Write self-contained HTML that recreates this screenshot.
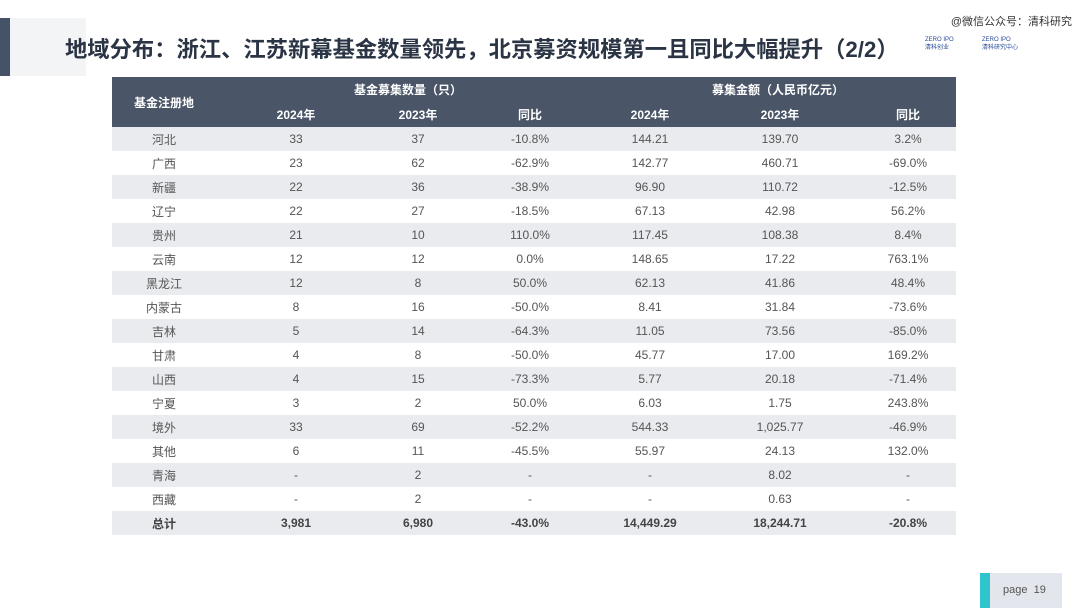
<!DOCTYPE html>
<html><head><meta charset="utf-8"><style>
body{margin:0;width:1080px;height:608px;background:#fff;position:relative;overflow:hidden;font-family:"Liberation Sans","Noto Sans CJK SC",sans-serif;}
.abs{position:absolute}
table{border-collapse:collapse;table-layout:fixed}
td,th{padding:0;text-align:center;font-size:12px;color:#555;height:24px;font-weight:normal}
th{color:#fff;font-weight:bold;font-size:12px;height:25px;background:#4a5568}
tr.g td{background:#e9ebef}
tr.t td{font-weight:bold;color:#444}
</style></head><body>
<div class="abs" style="left:0;top:18px;width:86px;height:58px;background:#f3f4f6"></div>
<div class="abs" style="left:0;top:18px;width:10px;height:58px;background:#455268"></div>
<div class="abs" style="left:65px;top:32px;font-size:22.3px;font-weight:bold;color:#2a3444;white-space:nowrap">地域分布：浙江、江苏新幕基金数量领先，北京募资规模第一且同比大幅提升（2/2）</div>
<div class="abs" style="right:8px;top:13px;font-size:11px;color:#333">@微信公众号：清科研究</div>
<div class="abs" style="left:925px;top:36px;width:32px;height:24px;font-size:6px;color:#2a4a9a;line-height:8px">ZERO IPO<br>清科创业</div>
<div class="abs" style="left:982px;top:36px;width:40px;height:24px;font-size:6px;color:#2a4a9a;line-height:8px">ZERO IPO<br>清科研究中心</div>
<table class="abs" style="left:112px;top:77px;width:844px">
<colgroup><col style="width:104px"><col style="width:160px"><col style="width:84px"><col style="width:140px"><col style="width:100px"><col style="width:160px"><col style="width:96px"></colgroup>
<tr><th rowspan="2">基金注册地</th><th colspan="3">基金募集数量（只）</th><th colspan="3">募集金额（人民币亿元）</th></tr>
<tr><th>2024年</th><th>2023年</th><th>同比</th><th>2024年</th><th>2023年</th><th>同比</th></tr>
<tr class="g"><td>河北</td><td>33</td><td>37</td><td>-10.8%</td><td>144.21</td><td>139.70</td><td>3.2%</td></tr>
<tr><td>广西</td><td>23</td><td>62</td><td>-62.9%</td><td>142.77</td><td>460.71</td><td>-69.0%</td></tr>
<tr class="g"><td>新疆</td><td>22</td><td>36</td><td>-38.9%</td><td>96.90</td><td>110.72</td><td>-12.5%</td></tr>
<tr><td>辽宁</td><td>22</td><td>27</td><td>-18.5%</td><td>67.13</td><td>42.98</td><td>56.2%</td></tr>
<tr class="g"><td>贵州</td><td>21</td><td>10</td><td>110.0%</td><td>117.45</td><td>108.38</td><td>8.4%</td></tr>
<tr><td>云南</td><td>12</td><td>12</td><td>0.0%</td><td>148.65</td><td>17.22</td><td>763.1%</td></tr>
<tr class="g"><td>黑龙江</td><td>12</td><td>8</td><td>50.0%</td><td>62.13</td><td>41.86</td><td>48.4%</td></tr>
<tr><td>内蒙古</td><td>8</td><td>16</td><td>-50.0%</td><td>8.41</td><td>31.84</td><td>-73.6%</td></tr>
<tr class="g"><td>吉林</td><td>5</td><td>14</td><td>-64.3%</td><td>11.05</td><td>73.56</td><td>-85.0%</td></tr>
<tr><td>甘肃</td><td>4</td><td>8</td><td>-50.0%</td><td>45.77</td><td>17.00</td><td>169.2%</td></tr>
<tr class="g"><td>山西</td><td>4</td><td>15</td><td>-73.3%</td><td>5.77</td><td>20.18</td><td>-71.4%</td></tr>
<tr><td>宁夏</td><td>3</td><td>2</td><td>50.0%</td><td>6.03</td><td>1.75</td><td>243.8%</td></tr>
<tr class="g"><td>境外</td><td>33</td><td>69</td><td>-52.2%</td><td>544.33</td><td>1,025.77</td><td>-46.9%</td></tr>
<tr><td>其他</td><td>6</td><td>11</td><td>-45.5%</td><td>55.97</td><td>24.13</td><td>132.0%</td></tr>
<tr class="g"><td>青海</td><td>-</td><td>2</td><td>-</td><td>-</td><td>8.02</td><td>-</td></tr>
<tr><td>西藏</td><td>-</td><td>2</td><td>-</td><td>-</td><td>0.63</td><td>-</td></tr>
<tr class="g t"><td>总计</td><td>3,981</td><td>6,980</td><td>-43.0%</td><td>14,449.29</td><td>18,244.71</td><td>-20.8%</td></tr>
</table>
<div class="abs" style="left:980px;top:573px;width:82px;height:35px;background:#e3e6ec"></div>
<div class="abs" style="left:980px;top:573px;width:10px;height:35px;background:#2ec4cc"></div>
<div class="abs" style="left:1003px;top:584px;font-size:11px;color:#555">page&nbsp;&nbsp;19</div>
</body></html>
